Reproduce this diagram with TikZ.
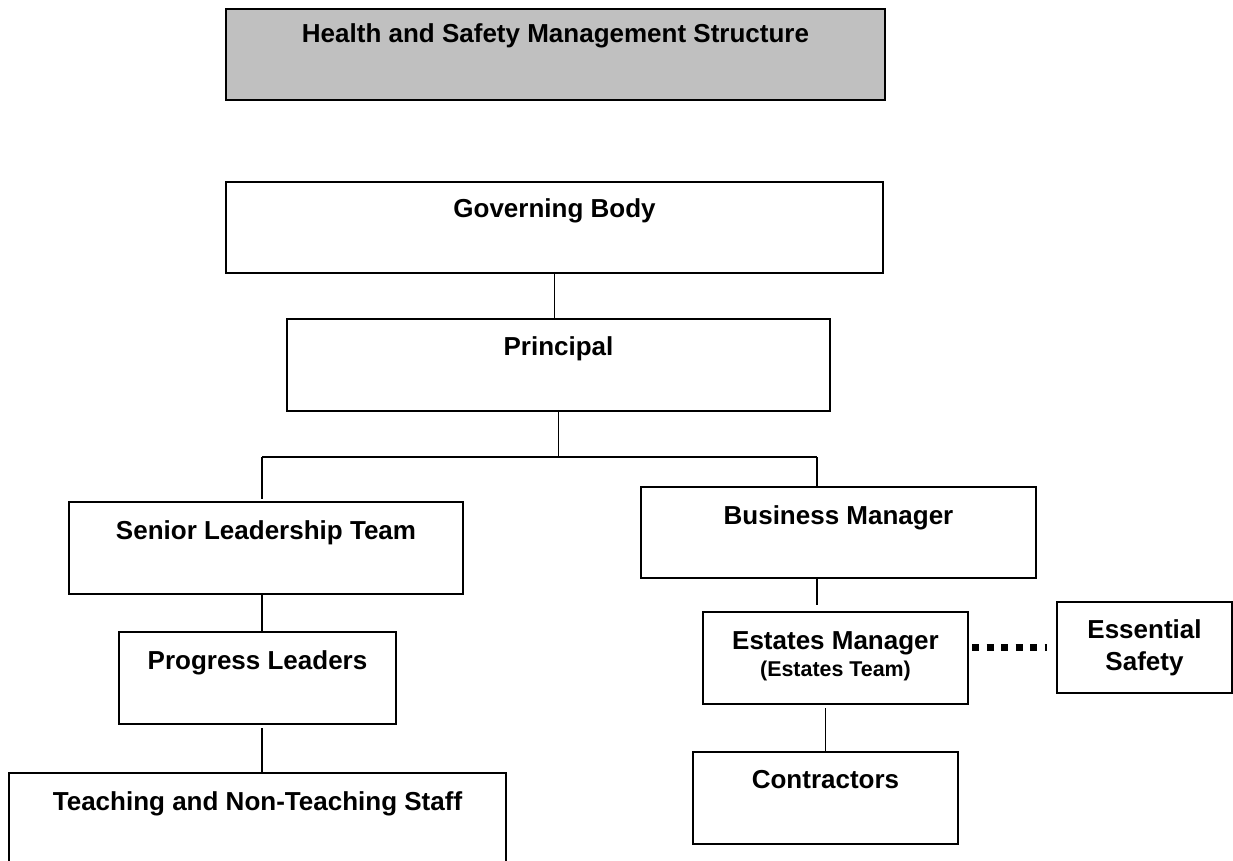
\documentclass[tikz,border=0pt]{standalone}
\usepackage{fontspec}
\setmainfont{Liberation Sans}
\definecolor{titlegrey}{RGB}{192,192,192}
\tikzstyle{box} = [draw, line width=2pt, inner sep=0pt, outer sep=0pt]
\tikzstyle{txt} = [inner sep=0pt, anchor=base, font=\fontsize{26}{32}\selectfont\bfseries]
\tikzstyle{subtxt} = [inner sep=0pt, anchor=base, font=\fontsize{21.4}{26}\selectfont\bfseries]
\tikzstyle{line} = [line width=1.5pt]
\tikzstyle{dotline} = [line width=6.5pt, dash pattern=on 7pt off 7.5pt]

\begin{document}
\begin{tikzpicture}[x=1pt, y=-1pt]
        \useasboundingbox (0,0) rectangle (1233,861);
        % Title
        \node[box, fill=titlegrey, minimum width=659pt, minimum height=91pt] (title) at (555.5,54.5) {};
        \node[txt] (titletxt) at (title.center |- 0,43) {Health and Safety Management Structure};

        % Boxes
        \node[box, minimum width=657pt, minimum height=91pt] (gov) at (554.5,227.5) {};
        \node[box, minimum width=543pt, minimum height=92pt] (prin) at (558.5,365) {};
        \node[box, minimum width=394pt, minimum height=92pt] (slt) at (266,548) {};
        \node[box, minimum width=395pt, minimum height=91pt] (bm) at (838.5,532.5) {};
        \node[box, minimum width=277pt, minimum height=92pt] (pl) at (257.5,678) {};
        \node[box, minimum width=497pt, minimum height=114pt] (staff) at (257.5,830) {};
        \node[box, minimum width=265pt, minimum height=92pt] (em) at (835.5,658) {};
        \node[box, minimum width=175pt, minimum height=91pt] (ess) at (1144.5,647.5) {};
        \node[box, minimum width=265pt, minimum height=92pt] (con) at (825.5,798) {};

        % Labels
        \node[txt] (govtxt) at (gov.center |- 0,217) {Governing Body};
        \node[txt] (printxt) at (prin.center |- 0,355) {Principal};
        \node[txt] (slttxt) at (slt.center |- 0,539) {Senior Leadership Team};
        \node[txt] (bmtxt) at (bm.center |- 0,524) {Business Manager};
        \node[txt] (pltxt) at (pl.center |- 0,669) {Progress Leaders};
        \node[txt] (stafftxt) at (staff.center |- 0,810) {Teaching and Non-Teaching Staff};
        \node[txt] (emtxt) at (em.center |- 0,649) {Estates Manager};
        \node[subtxt] (emsub) at (em.center |- 0,676) {(Estates Team)};
        \node[txt, anchor=north, align=center] (esstxt) at (ess.center |- 0,619) {Essential\\Safety};
        \node[txt] (contxt) at (con.center |- 0,788) {Contractors};

        % Connectors
        \coordinate (split) at (prin.south |- 0,457);
        \coordinate (lt) at (262,457);
        \coordinate (rt) at (817,457);
        \draw[line] (gov.south) -- (gov.south |- prin.north);
        \draw[line] (prin.south) -- (split);
        \draw[line] (lt) -- (rt);
        \draw[line, shorten >=3pt] (lt) -- (lt |- slt.north);
        \draw[line] (rt) -- (rt |- bm.north);
        \draw[line] (slt.south -| lt) -- (lt |- pl.north);
        \draw[line, shorten <=4pt] (pl.south -| lt) -- (lt |- staff.north);
        \draw[line, shorten >=7pt] (bm.south -| rt) -- (rt |- em.north);
        \draw[line, shorten <=4pt] (em.south -| con.north) -- (con.north);
        \draw[dotline, shorten <=4pt, shorten >=10pt] (em.east |- ess.west) -- (ess.west);
\end{tikzpicture}
\end{document}
